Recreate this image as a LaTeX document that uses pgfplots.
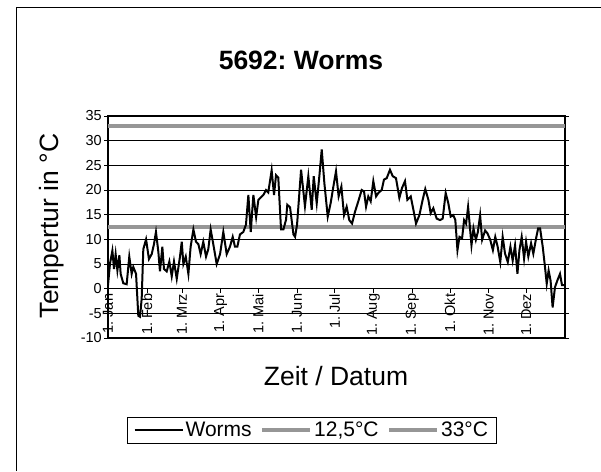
\documentclass[border=0pt]{standalone}
\usepackage{pgfplots}
\pgfplotsset{compat=1.18}
\usepackage{fontspec}
\setmainfont{Liberation Sans}
\frenchspacing
\definecolor{lg}{RGB}{150,150,150}
\pgfplotstableread{
d t
0 0.7
1.6 5.1
3.5 7.7
4.8 4
6.1 7
7.5 3.7
9.1 6.8
10.1 3
12.2 1.1
14.9 0.9
17 6.5
18.9 3
20.2 4.4
22.4 3
24.2 -5.5
25.6 -5.7
26.9 -2
28.2 8
30.4 10
32.7 6
34.9 7
36.7 9
38.3 11.5
40.2 7.5
41.5 3.5
43.4 8.5
44.7 4
46.9 3.5
49 5.5
50.9 2.5
52.7 5.5
54.9 2
57.5 6.5
58.9 9.5
60.2 5
62.1 6.5
64.2 3
66 8.5
68.2 12
70.3 9.5
72.2 9
74 7
76.1 9.5
78.3 6.5
80.1 8
82 12
84.1 9
86.8 5
89.5 7
92.1 11.5
94.8 7
97.4 8.5
99.6 10.5
101.4 8.5
103.3 8.5
105.4 11
108.1 11.5
110.2 13
112.1 19
114 11.5
116.1 19
118.3 14.5
120.1 18
122 18.5
124.1 19
126.2 20
128 19.5
130.7 24
132.6 19
134.2 23
136 22.5
138.2 12
140.1 12
142.2 14
143.2 17
145.4 16.5
148.1 11
149.4 10.5
151 13
154.2 24.1
157.3 16.7
160 22.8
162.7 16
164.3 22.8
166.7 17.3
168.8 22.8
170.7 28.2
172.8 21.4
175.5 14.6
177.8 17.3
180 20.7
182.1 23.8
184.2 18.7
186.4 20.7
188.5 14.9
190.6 16.6
192.7 13.9
194.9 13.2
197.3 15.6
199.9 17.7
202.6 20
204.5 19.7
206.1 16.6
207.9 18.7
209.8 17.7
211.9 21.8
214.1 18.7
215.9 19.4
218.6 20
220.4 22.1
222.6 22.4
225.2 24.1
227.4 22.8
230 22.4
232.7 18.4
234.8 20.4
237.2 21.8
239.1 18
241.8 18.7
243.9 16
246 13.2
248.7 14.9
251.3 18
253.4 20.2
255.9 18
257.7 15.3
259.8 16.3
262.5 14.2
265.2 13.9
267.3 14.2
269.7 19.4
271.8 17.3
273.7 14.6
275.8 14.9
277.4 13.9
279.1 7.8
280.7 10.5
282.8 10.2
284.4 13.9
286 13.2
287.6 16.6
288.7 13.5
290.3 8.8
291.9 12.2
293.8 9.9
295.4 11.5
297.2 14.9
298.8 9.9
301.2 11.8
303.1 11.2
305.3 9.9
307.4 7.8
309.3 10.5
311.2 8.5
313.3 5.4
315.2 10.5
317.1 7.1
319.3 5.4
321.4 8.5
323.2 5.7
325.1 8.8
327 3.0
328.6 7.8
330.4 10.5
332.3 6.1
333.9 9.5
335.7 6.5
337.9 9.2
339.7 7.1
341.9 10.2
343.5 12.2
345.1 12.2
347.2 8.5
349 4.4
350.4 1.0
351.9 3.7
353.5 1.6
355.1 -3.8
357 0.3
358.8 1.6
361 3.0
362.6 0.7
364.5 0.7
}\worms
\begin{document}
\begin{tikzpicture}
\path[use as bounding box] (0,0) rectangle (601pt,471pt);
\draw[line width=1.3pt] (16.5pt,0pt) -- (16.5pt,463.5pt) -- (601pt,463.5pt);
\node[font=\fontsize{26.5}{30}\selectfont\bfseries] at (301pt,411pt) {5692: Worms};
\node[font=\fontsize{26.5}{30}\selectfont, rotate=90] at (52pt,245pt) {Tempertur in °C};
\node[font=\fontsize{26.5}{30}\selectfont] at (336pt,95pt) {Zeit / Datum};
\begin{axis}[
  at={(108pt,133pt)}, anchor=south west,
  scale only axis, width=457pt, height=222pt,
  xmin=0, xmax=365, ymin=-10, ymax=35,
  xtick=\empty,
  ytick={-10,-5,...,35},
  tick align=outside, major tick length=4pt,
  tick style={black, line width=0.6pt},
  ymajorgrids,
  major grid style={black, line width=0.6pt},
  axis line style={line width=1.2pt},
  yticklabel style={font=\fontsize{14.5}{16}\selectfont, inner sep=2pt},
  /pgf/number format/assume math mode=true,
  clip=false,
  legend columns=3,
  legend style={at={(0.446,-0.414)}, anchor=center, draw=black, line width=0.6pt,
    font=\fontsize{21}{24}\selectfont, inner xsep=6pt, inner ysep=3pt,
    /tikz/every even column/.append style={column sep=7pt}},
  legend image code/.code={\draw[#1] (0pt,0pt) -- (48pt,0pt);},
]
\addplot[lg, line width=3.5pt, forget plot] coordinates {(0,12.5) (365,12.5)};
\addplot[lg, line width=3.5pt, forget plot] coordinates {(0,33) (365,33)};
\addplot[black, line width=2pt] table[x=d,y=t] {\worms};
\addlegendentry{Worms}
\addlegendimage{lg, line width=3.5pt}
\addlegendentry{12,5°C}
\addlegendimage{lg, line width=3.5pt}
\addlegendentry{33°C}
\end{axis}
\begin{axis}[
  at={(108pt,133pt)}, anchor=south west,
  scale only axis, width=457pt, height=222pt,
  xmin=0, xmax=365, ymin=-10, ymax=35,
  axis x line=middle, axis y line=none,
  x axis line style={-, line width=0.8pt},
  xtick={0,31,59,90,120,151,181,212,243,273,304,334},
  xticklabels={1. Jan,1. Feb,1. Mrz,1. Apr,1. Mai,1. Jun,1. Jul,1. Aug,1. Sep,1. Okt,1. Nov,1. Dez},
  xticklabel style={rotate=90, anchor=east, font=\fontsize{14.5}{16}\selectfont, inner sep=1pt},
  tick align=outside, major tick length=4pt,
  tick style={black, line width=0.6pt},
]
\end{axis}
\end{tikzpicture}
\end{document}
